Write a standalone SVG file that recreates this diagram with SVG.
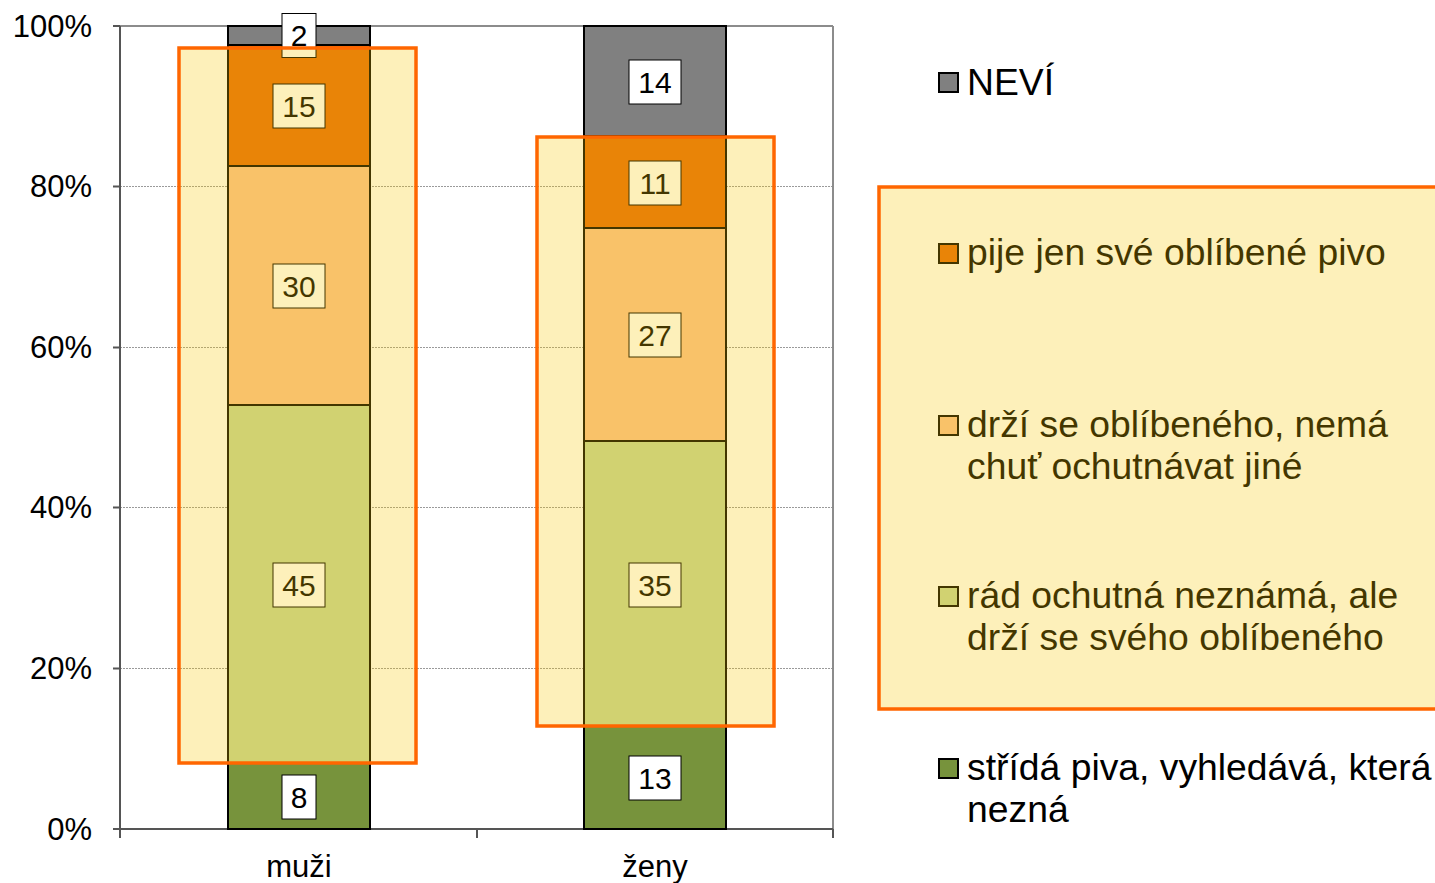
<svg xmlns="http://www.w3.org/2000/svg" width="1435" height="883" viewBox="0 0 1435 883">
<style>
text{font-family:"Liberation Sans",Arial,sans-serif;fill:#000}
.ax{font-size:31px;text-anchor:end}
.cat{font-size:31px;text-anchor:middle}
.lbl{font-size:30px;text-anchor:middle}
.leg{font-size:37.3px}
.grid{stroke:#9a9a9a;stroke-width:1;stroke-dasharray:2 1}
.seg{stroke:#000;stroke-width:2}
.box{fill:#fff;stroke:#000;stroke-width:1}
.mk{stroke:#000;stroke-width:2}
.ov{fill:#F7C800;fill-opacity:0.27;stroke:#FF6600;stroke-width:3.5}
.c1{fill:#808080}.c2{fill:#E46C0A}.c3{fill:#FAC090}.c4{fill:#C3D69B}.c5{fill:#77933C}
</style>
<rect width="1435" height="883" fill="#fff"/>
<g id="axes">
<line class="grid" x1="120" y1="186.5" x2="833" y2="186.5"/>
<line class="grid" x1="120" y1="347.5" x2="833" y2="347.5"/>
<line class="grid" x1="120" y1="507.5" x2="833" y2="507.5"/>
<line class="grid" x1="120" y1="668.5" x2="833" y2="668.5"/>
<line x1="120" y1="26" x2="833" y2="26" stroke="#8c8c8c" stroke-width="2"/>
<line x1="833" y1="26" x2="833" y2="829" stroke="#8c8c8c" stroke-width="2"/>
<line x1="120" y1="26" x2="120" y2="829" stroke="#555" stroke-width="2"/>
<line x1="113" y1="829" x2="833" y2="829" stroke="#555" stroke-width="2"/>
<g stroke="#555" stroke-width="2">
<line x1="113" y1="26" x2="120" y2="26"/><line x1="113" y1="186.5" x2="120" y2="186.5"/>
<line x1="113" y1="347.5" x2="120" y2="347.5"/><line x1="113" y1="507.5" x2="120" y2="507.5"/>
<line x1="113" y1="668.5" x2="120" y2="668.5"/>
<line x1="120" y1="829" x2="120" y2="838"/><line x1="477" y1="829" x2="477" y2="838"/><line x1="833" y1="829" x2="833" y2="838"/>
</g>
<text class="ax" x="92" y="37">100%</text>
<text class="ax" x="92" y="197">80%</text>
<text class="ax" x="92" y="358">60%</text>
<text class="ax" x="92" y="518">40%</text>
<text class="ax" x="92" y="679">20%</text>
<text class="ax" x="92" y="840">0%</text>
<text class="cat" x="299" y="877">muži</text>
<text class="cat" x="655" y="877">ženy</text>
</g>
<g id="bar-muzi">
<rect class="seg c5" x="228" y="763" width="142" height="66"/>
<rect class="seg c4" x="228" y="405" width="142" height="358"/>
<rect class="seg c3" x="228" y="166" width="142" height="239"/>
<rect class="seg c2" x="228" y="45" width="142" height="121"/>
<rect class="seg c1" x="228" y="26" width="142" height="19"/>
<rect class="box" x="282" y="13.5" width="34" height="44"/><text class="lbl" x="299" y="46">2</text>
<rect class="box" x="273" y="84" width="52" height="44"/><text class="lbl" x="299" y="117">15</text>
<rect class="box" x="273" y="264" width="52" height="44"/><text class="lbl" x="299" y="297">30</text>
<rect class="box" x="273" y="563" width="52" height="44"/><text class="lbl" x="299" y="596">45</text>
<rect class="box" x="282" y="775" width="34" height="44"/><text class="lbl" x="299" y="808">8</text>
</g>
<g id="bar-zeny">
<rect class="seg c5" x="584" y="726" width="142" height="103"/>
<rect class="seg c4" x="584" y="441" width="142" height="285"/>
<rect class="seg c3" x="584" y="228" width="142" height="213"/>
<rect class="seg c2" x="584" y="136" width="142" height="92"/>
<rect class="seg c1" x="584" y="26" width="142" height="110"/>
<rect class="box" x="629" y="60" width="52" height="44"/><text class="lbl" x="655" y="93">14</text>
<rect class="box" x="629" y="161" width="52" height="44"/><text class="lbl" x="655" y="194">11</text>
<rect class="box" x="629" y="313" width="52" height="44"/><text class="lbl" x="655" y="346">27</text>
<rect class="box" x="629" y="563" width="52" height="44"/><text class="lbl" x="655" y="596">35</text>
<rect class="box" x="629" y="756" width="52" height="44"/><text class="lbl" x="655" y="789">13</text>
</g>
<g id="legend">
<rect class="mk c1" x="939" y="73" width="19" height="19"/><text class="leg" x="967" y="95">NEVÍ</text>
<rect class="mk c2" x="939" y="244" width="19" height="19"/><text class="leg" x="967" y="265">pije jen své oblíbené pivo</text>
<rect class="mk c3" x="939" y="416" width="19" height="19"/><text class="leg" x="967" y="437">drží se oblíbeného, nemá</text><text class="leg" x="967" y="479">chuť ochutnávat jiné</text>
<rect class="mk c4" x="939" y="587" width="19" height="19"/><text class="leg" x="967" y="608">rád ochutná neznámá, ale</text><text class="leg" x="967" y="650">drží se svého oblíbeného</text>
<rect class="mk c5" x="939" y="759" width="19" height="19"/><text class="leg" x="967" y="780">střídá piva, vyhledává, která</text><text class="leg" x="967" y="822">nezná</text>
</g>
<g id="highlights">
<rect class="ov" x="179" y="48" width="237" height="715"/>
<rect class="ov" x="537" y="137" width="237" height="589"/>
<rect class="ov" x="879" y="187" width="570" height="522"/>
</g>
</svg>
